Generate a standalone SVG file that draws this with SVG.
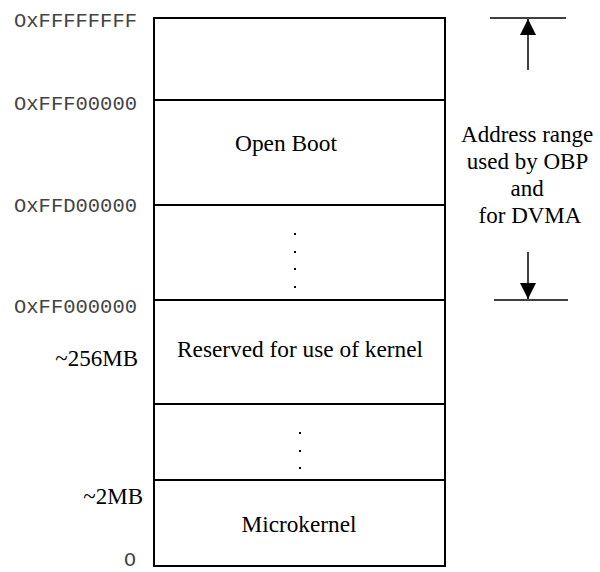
<svg xmlns="http://www.w3.org/2000/svg" width="600" height="572" viewBox="0 0 600 572">
<defs>
<style>
.box{fill:#fff;stroke:#000;stroke-width:2}
.seg{fill:none;stroke:#000;stroke-width:2}
.mono{font-family:'Liberation Mono','Courier New',monospace;font-size:20px;fill:#444}
.serif{font-family:'Liberation Serif','Times New Roman',serif;font-size:23px;fill:#000}
.dot{fill:#000}
.ln{stroke:#000;stroke-width:1.5;fill:none}
</style>
<marker id="ah" viewBox="0 0 10 10" refX="10" refY="5" markerWidth="16" markerHeight="16" markerUnits="userSpaceOnUse" orient="auto">
<path d="M0,0 L10,5 L0,10 z" fill="#000"/>
</marker>
</defs>
<rect width="600" height="572" fill="#fff"/>
<g id="memory-map">
<rect class="box" x="154" y="18" width="291" height="548"/>
</g>
<g id="seg-top">
<line class="seg" x1="154" y1="100" x2="445" y2="100"/>
</g>
<g id="seg-openboot">
<line class="seg" x1="154" y1="205" x2="445" y2="205"/>
<text class="serif" x="286" y="151" text-anchor="middle" textLength="102" lengthAdjust="spacingAndGlyphs">Open Boot</text>
</g>
<g id="seg-gap1">
<line class="seg" x1="154" y1="300" x2="445" y2="300"/>
<rect class="dot" x="294" y="233" width="2" height="2"/>
<rect class="dot" x="294" y="251" width="2" height="2"/>
<rect class="dot" x="294" y="268" width="2" height="2"/>
<rect class="dot" x="294" y="286" width="2" height="2"/>
</g>
<g id="seg-reserved">
<line class="seg" x1="154" y1="404" x2="445" y2="404"/>
<text class="serif" x="300" y="357" text-anchor="middle" textLength="246" lengthAdjust="spacingAndGlyphs">Reserved for use of kernel</text>
</g>
<g id="seg-gap2">
<line class="seg" x1="154" y1="480" x2="445" y2="480"/>
<rect class="dot" x="299" y="432" width="2" height="2"/>
<rect class="dot" x="299" y="450" width="2" height="2"/>
<rect class="dot" x="299" y="467" width="2" height="2"/>
</g>
<g id="seg-microkernel">
<text class="serif" x="299" y="532" text-anchor="middle" textLength="115" lengthAdjust="spacingAndGlyphs">Microkernel</text>
</g>
<g id="labels">
<text class="mono" x="137" y="27" text-anchor="end" textLength="123" lengthAdjust="spacingAndGlyphs">OxFFFFFFFF</text>
<text class="mono" x="137" y="110" text-anchor="end" textLength="123" lengthAdjust="spacingAndGlyphs">OxFFF00000</text>
<text class="mono" x="137" y="212" text-anchor="end" textLength="123" lengthAdjust="spacingAndGlyphs">OxFFD00000</text>
<text class="mono" x="137" y="313" text-anchor="end" textLength="123" lengthAdjust="spacingAndGlyphs">OxFF000000</text>
<text class="serif" x="138" y="366" text-anchor="end">~256MB</text>
<text class="serif" x="143" y="504" text-anchor="end">~2MB</text>
<text class="mono" x="130" y="566" text-anchor="middle" font-size="14">O</text>
</g>
<g id="range-label">
<text class="serif" text-anchor="middle">
<tspan x="530" y="142">Address range</tspan>
<tspan x="530" y="169">used by OBP</tspan>
<tspan x="530" y="196">and</tspan>
<tspan x="530" y="223">for DVMA</tspan>
</text>
</g>
<g id="connectors">
<line class="ln" x1="490" y1="18" x2="566" y2="18"/>
<line class="ln" x1="528" y1="70" x2="528" y2="19" marker-end="url(#ah)"/>
<line class="ln" x1="494" y1="300" x2="568" y2="300"/>
<line class="ln" x1="528" y1="252" x2="528" y2="299" marker-end="url(#ah)"/>
</g>
</svg>
